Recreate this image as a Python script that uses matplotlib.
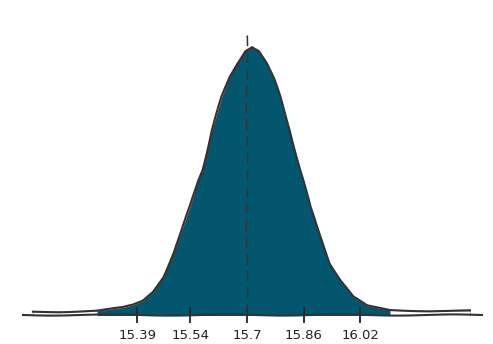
import numpy as np
import matplotlib
matplotlib.use("Agg")
import matplotlib.pyplot as plt

# Density curve
x_vals = [15.095, 15.172, 15.276, 15.350, 15.378, 15.406, 15.434, 15.463, 15.491,
          15.516, 15.539, 15.562, 15.573, 15.601, 15.629, 15.651, 15.672, 15.694, 15.714,
          15.734, 15.756, 15.775, 15.793, 15.821, 15.850, 15.858, 15.878, 15.915, 15.934,
          15.963, 15.999, 16.039, 16.104, 16.217, 16.330]
density = [0.04, 0.04, 0.05, 0.09, 0.12, 0.17, 0.28, 0.46, 0.74,
           1.02, 1.30, 1.62, 1.74, 2.22, 2.62, 2.86, 3.02, 3.17, 3.22,
           3.17, 3.02, 2.84, 2.62, 2.22, 1.74, 1.62, 1.30, 0.86, 0.62,
           0.42, 0.22, 0.11, 0.06, 0.05, 0.05]
fill_lo, fill_hi = 15.27, 16.11
mean_val = 15.7
tick_vals = [15.39, 15.54, 15.7, 15.86, 16.02]
tick_labels = ["15.39", "15.54", "15.7", "15.86", "16.02"]

plt.xkcd(scale=0.6, length=120, randomness=1.5)
plt.rcParams['font.family'] = ['DejaVu Sans']
plt.rcParams['path.effects'] = []

fig = plt.figure(figsize=(4.93, 3.44), dpi=100)
ax = fig.add_axes([0.0467, 0.0843, 0.931, 0.8285])

x = np.array(x_vals)
y = np.array(density)
mask = (x >= fill_lo) & (x <= fill_hi)
ax.fill_between(x, -0.2, y, color="white", edgecolor="#bbbbbb", linewidth=0.8, zorder=0.5)
ax.fill_between(x, -0.2, y, where=mask, color="#02576e", linewidth=0, zorder=1)
ax.plot(x, y, color="#333333", lw=1.5, zorder=3)
ax.axvline(mean_val, color="#333333", lw=1.1, linestyle=(0, (7, 4)), zorder=4)

ax.set_xlim(15.067, 16.364)
ax.set_ylim(0, 3.42)
ax.set_xticks(tick_vals)
ax.set_xticklabels(tick_labels, fontsize=9.5)
ax.tick_params(axis='x', direction='inout', length=12, width=1.3, colors="#222222", pad=4)
ax.set_yticks([])
for s in ['left', 'top', 'right']:
    ax.spines[s].set_visible(False)
ax.spines['bottom'].set_color("#333333")
ax.spines['bottom'].set_linewidth(1.5)
ax.spines['bottom'].set_zorder(5)

fig.savefig("out.png", dpi=100)
